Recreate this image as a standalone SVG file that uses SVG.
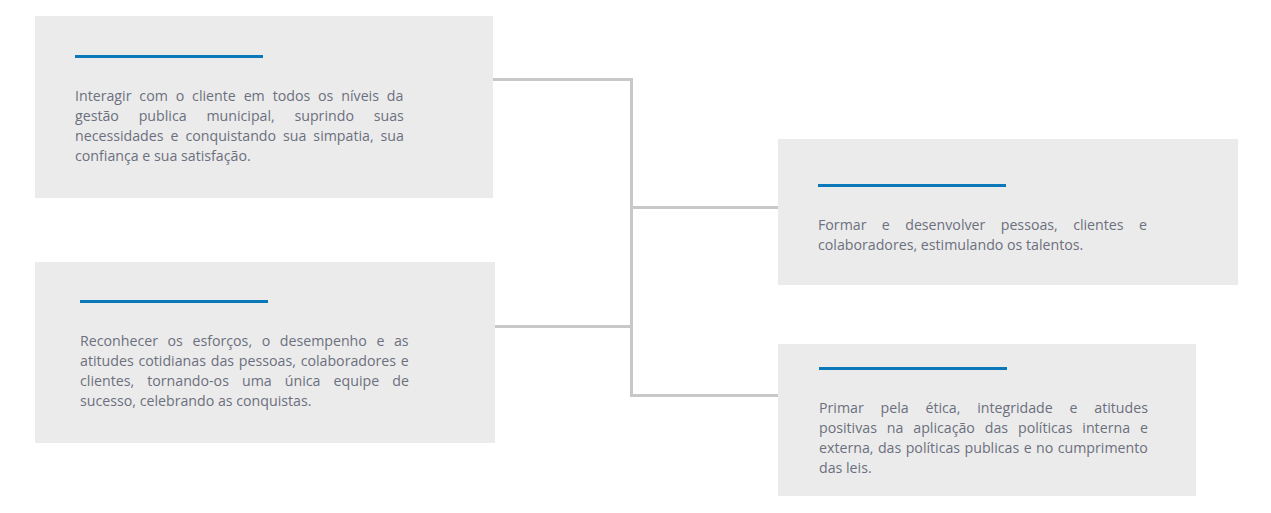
<svg xmlns="http://www.w3.org/2000/svg" width="1271" height="513" viewBox="0 0 1271 513">
<style>
.box{fill:#ebebeb}
.bar{fill:#0a78b9}
.txt{font-family:"Open Sans","Noto Sans","Liberation Sans",sans-serif;font-size:14.2px;fill:#6b707e}
.conn{fill:none;stroke:#c8c8c8;stroke-width:3}
</style>
<rect width="1271" height="513" fill="#ffffff"/>
<g id="connectors">
<path class="conn" d="M493,79.5 H631.5 V395.5 H778"/>
<path class="conn" d="M495,326.5 H631.5"/>
<path class="conn" d="M631.5,207.5 H778"/>
</g>
<g id="node1">
<rect class="box" x="35" y="16" width="458" height="182"/>
<rect class="bar" x="75" y="55" width="188" height="3"/>
<text class="txt">
<tspan x="75" y="101" word-spacing="4.2">Interagir com o cliente em todos os níveis da</tspan>
<tspan x="75" y="121" word-spacing="16.1">gestão publica municipal, suprindo suas</tspan>
<tspan x="75" y="141" word-spacing="3.3">necessidades e conquistando sua simpatia, sua</tspan>
<tspan x="75" y="161">confiança e sua satisfação.</tspan>
</text>
</g>
<g id="node2">
<rect class="box" x="35" y="262" width="460" height="181"/>
<rect class="bar" x="80" y="300" width="188" height="3"/>
<text class="txt">
<tspan x="80" y="346" word-spacing="5.9">Reconhecer os esforços, o desempenho e as</tspan>
<tspan x="80" y="366" word-spacing="1.1">atitudes cotidianas das pessoas, colaboradores e</tspan>
<tspan x="80" y="386" word-spacing="9.4">clientes, tornando-os uma única equipe de</tspan>
<tspan x="80" y="406">sucesso, celebrando as conquistas.</tspan>
</text>
</g>
<g id="node3">
<rect class="box" x="778" y="139" width="460" height="146"/>
<rect class="bar" x="818" y="184" width="188" height="3"/>
<text class="txt">
<tspan x="818" y="230" word-spacing="11.7">Formar e desenvolver pessoas, clientes e</tspan>
<tspan x="818" y="250">colaboradores, estimulando os talentos.</tspan>
</text>
</g>
<g id="node4">
<rect class="box" x="778" y="344" width="418" height="152"/>
<rect class="bar" x="819" y="367" width="188" height="3"/>
<text class="txt">
<tspan x="819" y="413" word-spacing="13.1">Primar pela ética, integridade e atitudes</tspan>
<tspan x="819" y="433" word-spacing="6.2">positivas na aplicação das políticas interna e</tspan>
<tspan x="819" y="453" word-spacing="0.75">externa, das políticas publicas e no cumprimento</tspan>
<tspan x="819" y="473">das leis.</tspan>
</text>
</g>
</svg>
